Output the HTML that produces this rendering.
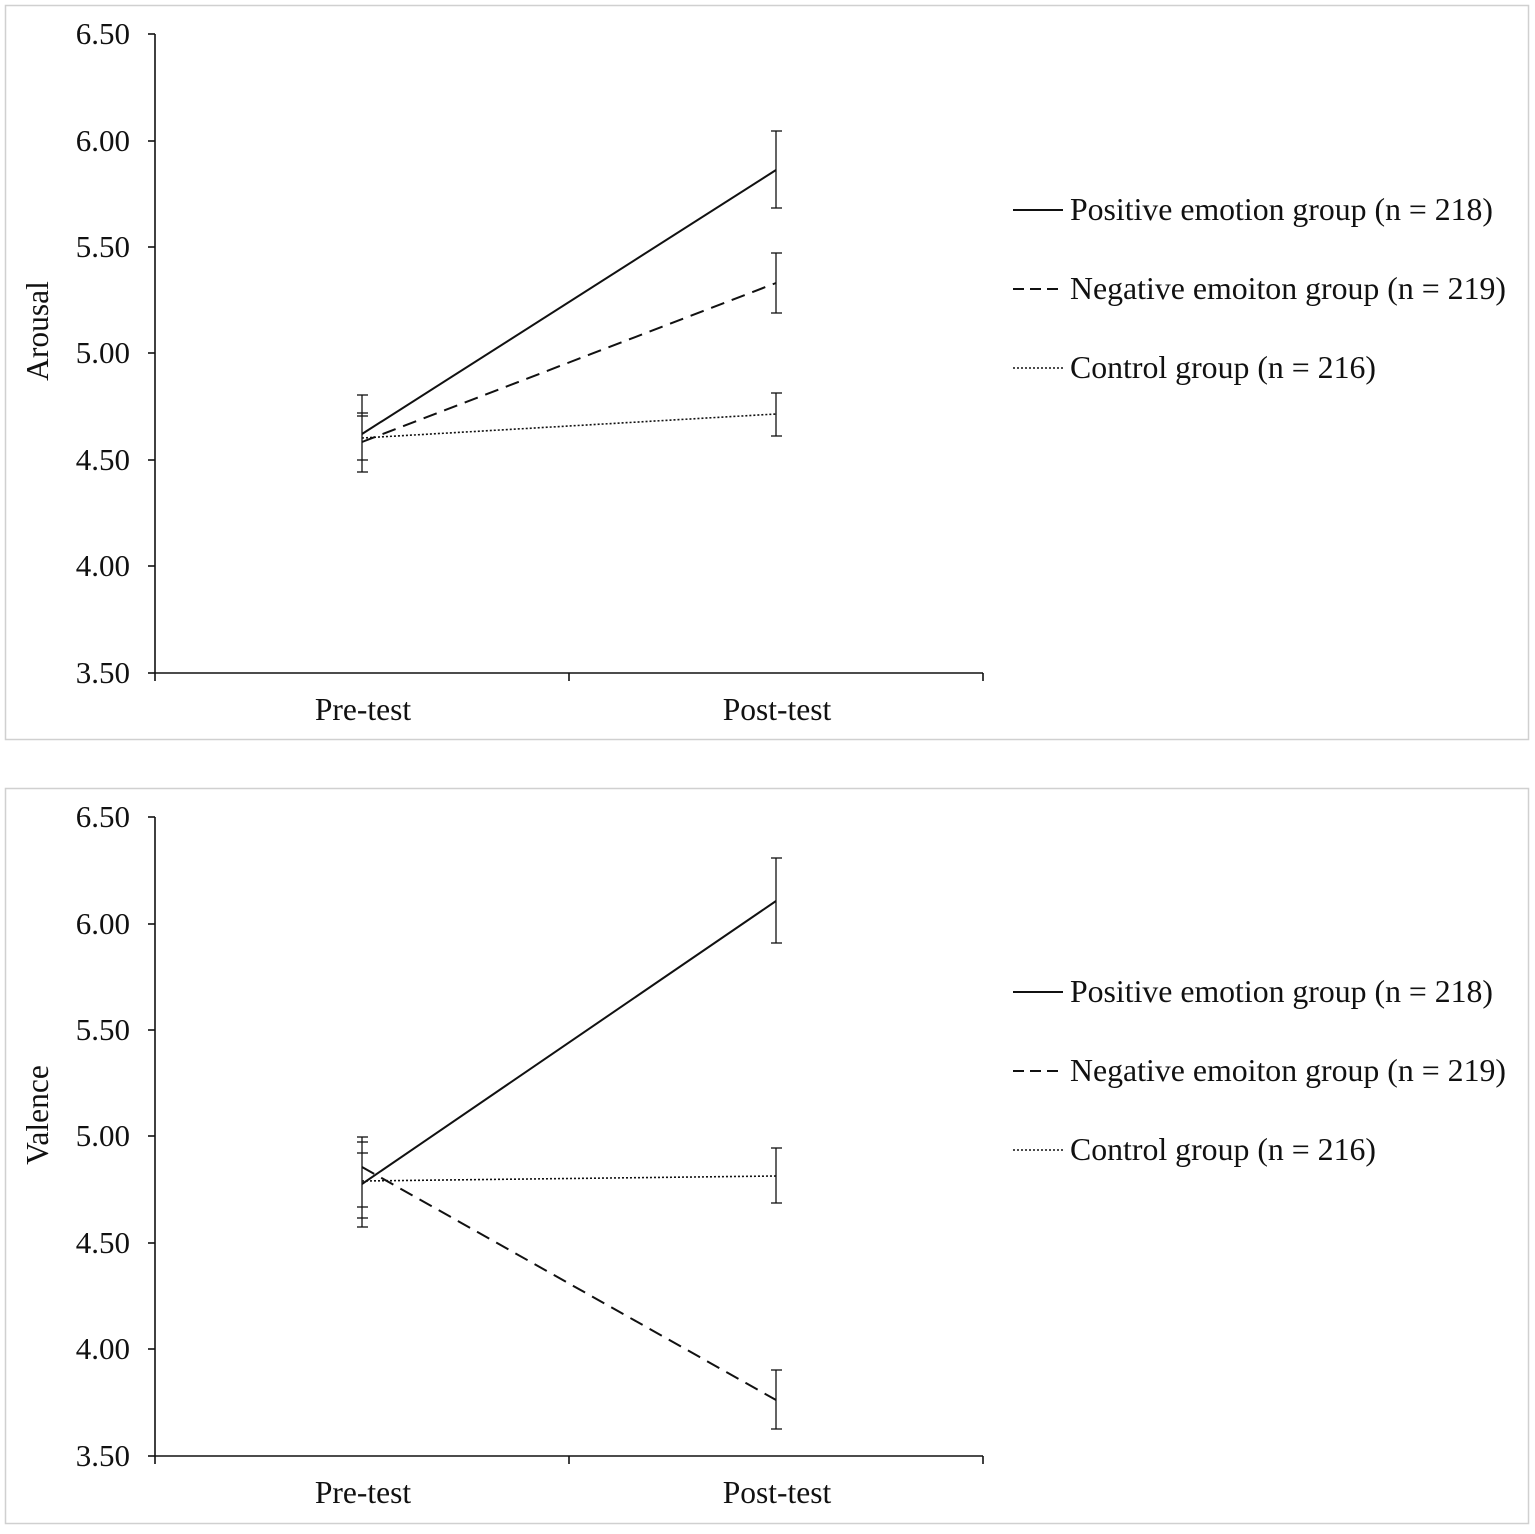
<!DOCTYPE html>
<html><head><meta charset="utf-8"><style>
html,body{margin:0;padding:0;background:#fff;}
svg text{font-family:"Liberation Serif",serif;fill:#111;}
</style></head><body>
<svg width="1535" height="1529" viewBox="0 0 1535 1529" xmlns="http://www.w3.org/2000/svg">
<rect x="5.5" y="5.5" width="1523" height="734" fill="#fff" stroke="#d0d0d0" stroke-width="1.5"/>
<rect x="5.5" y="788.5" width="1523" height="735" fill="#fff" stroke="#d0d0d0" stroke-width="1.5"/>
<g stroke="#111" stroke-width="1.6" fill="none">
<line x1="155" y1="34" x2="155" y2="673"/>
<line x1="155" y1="673" x2="983" y2="673"/>
<line x1="148" y1="34" x2="155" y2="34"/><line x1="148" y1="141" x2="155" y2="141"/>
<line x1="148" y1="247" x2="155" y2="247"/><line x1="148" y1="353" x2="155" y2="353"/>
<line x1="148" y1="460" x2="155" y2="460"/><line x1="148" y1="566" x2="155" y2="566"/>
<line x1="148" y1="673" x2="155" y2="673"/>
<line x1="155" y1="673" x2="155" y2="681"/><line x1="569" y1="673" x2="569" y2="681"/><line x1="983" y1="673" x2="983" y2="681"/>
<line x1="155" y1="817" x2="155" y2="1456"/>
<line x1="155" y1="1456" x2="983" y2="1456"/>
<line x1="148" y1="817" x2="155" y2="817"/><line x1="148" y1="924" x2="155" y2="924"/>
<line x1="148" y1="1030" x2="155" y2="1030"/><line x1="148" y1="1136" x2="155" y2="1136"/>
<line x1="148" y1="1243" x2="155" y2="1243"/><line x1="148" y1="1349" x2="155" y2="1349"/>
<line x1="148" y1="1456" x2="155" y2="1456"/>
<line x1="155" y1="1456" x2="155" y2="1464"/><line x1="569" y1="1456" x2="569" y2="1464"/><line x1="983" y1="1456" x2="983" y2="1464"/>
</g>
<g stroke="#111" stroke-width="1.3" fill="none">
<line x1="362" y1="395" x2="362" y2="472"/>
<line x1="357" y1="395" x2="368" y2="395"/><line x1="357" y1="413" x2="368" y2="413"/><line x1="357" y1="416" x2="368" y2="416"/>
<line x1="357" y1="460" x2="368" y2="460"/><line x1="357" y1="472" x2="368" y2="472"/>
<line x1="776" y1="131" x2="776" y2="208"/><line x1="771" y1="131" x2="782" y2="131"/><line x1="771" y1="208" x2="782" y2="208"/>
<line x1="776" y1="253" x2="776" y2="313"/><line x1="771" y1="253" x2="782" y2="253"/><line x1="771" y1="313" x2="782" y2="313"/>
<line x1="776" y1="393" x2="776" y2="436"/><line x1="771" y1="393" x2="782" y2="393"/><line x1="771" y1="436" x2="782" y2="436"/>
<line x1="362" y1="1137" x2="362" y2="1227"/>
<line x1="357" y1="1137" x2="368" y2="1137"/><line x1="357" y1="1142" x2="368" y2="1142"/><line x1="357" y1="1153" x2="368" y2="1153"/>
<line x1="357" y1="1207" x2="368" y2="1207"/><line x1="357" y1="1218" x2="368" y2="1218"/><line x1="357" y1="1227" x2="368" y2="1227"/>
<line x1="776" y1="858" x2="776" y2="943"/><line x1="771" y1="858" x2="782" y2="858"/><line x1="771" y1="943" x2="782" y2="943"/>
<line x1="776" y1="1370" x2="776" y2="1429"/><line x1="771" y1="1370" x2="782" y2="1370"/><line x1="771" y1="1429" x2="782" y2="1429"/>
<line x1="776" y1="1148" x2="776" y2="1203"/><line x1="771" y1="1148" x2="782" y2="1148"/><line x1="771" y1="1203" x2="782" y2="1203"/>
</g>
<g stroke="#111" fill="none">
<line x1="362" y1="434" x2="776" y2="170" stroke-width="2"/>
<line x1="362" y1="442" x2="776" y2="283" stroke-width="2" stroke-dasharray="14,8"/>
<line x1="362" y1="438" x2="776" y2="414" stroke-width="1.6" stroke-dasharray="2,2"/>
<line x1="362" y1="1184" x2="776" y2="901" stroke-width="2"/>
<line x1="362" y1="1167" x2="776" y2="1400" stroke-width="2" stroke-dasharray="14,8"/>
<line x1="362" y1="1181" x2="776" y2="1176" stroke-width="1.6" stroke-dasharray="2,2"/>
<line x1="1013" y1="210" x2="1063" y2="210" stroke-width="2"/>
<line x1="1013" y1="289" x2="1063" y2="289" stroke-width="2" stroke-dasharray="11,6"/>
<line x1="1013" y1="368" x2="1063" y2="368" stroke-width="1.6" stroke-dasharray="2,2"/>
<line x1="1013" y1="992" x2="1063" y2="992" stroke-width="2"/>
<line x1="1013" y1="1071" x2="1063" y2="1071" stroke-width="2" stroke-dasharray="11,6"/>
<line x1="1013" y1="1150" x2="1063" y2="1150" stroke-width="1.6" stroke-dasharray="2,2"/>
</g>
<g font-size="31" text-anchor="end">
<text x="130" y="44">6.50</text><text x="130" y="151">6.00</text><text x="130" y="257">5.50</text>
<text x="130" y="363">5.00</text><text x="130" y="470">4.50</text><text x="130" y="576">4.00</text><text x="130" y="683">3.50</text>
<text x="130" y="827">6.50</text><text x="130" y="934">6.00</text><text x="130" y="1040">5.50</text>
<text x="130" y="1146">5.00</text><text x="130" y="1253">4.50</text><text x="130" y="1359">4.00</text><text x="130" y="1466">3.50</text>
</g>
<g font-size="31.5" text-anchor="middle">
<text x="363" y="720">Pre-test</text><text x="777" y="720">Post-test</text>
<text x="363" y="1503">Pre-test</text><text x="777" y="1503">Post-test</text>
<text transform="translate(48,331) rotate(-90)">Arousal</text>
<text transform="translate(48,1115) rotate(-90)">Valence</text>
</g>
<g font-size="31.5">
<text x="1070" y="220" textLength="423" lengthAdjust="spacingAndGlyphs">Positive emotion group (n = 218)</text>
<text x="1070" y="299" textLength="436" lengthAdjust="spacingAndGlyphs">Negative emoiton group (n = 219)</text>
<text x="1070" y="378" textLength="306" lengthAdjust="spacingAndGlyphs">Control group (n = 216)</text>
<text x="1070" y="1002" textLength="423" lengthAdjust="spacingAndGlyphs">Positive emotion group (n = 218)</text>
<text x="1070" y="1081" textLength="436" lengthAdjust="spacingAndGlyphs">Negative emoiton group (n = 219)</text>
<text x="1070" y="1160" textLength="306" lengthAdjust="spacingAndGlyphs">Control group (n = 216)</text>
</g>
</svg>
</body></html>
